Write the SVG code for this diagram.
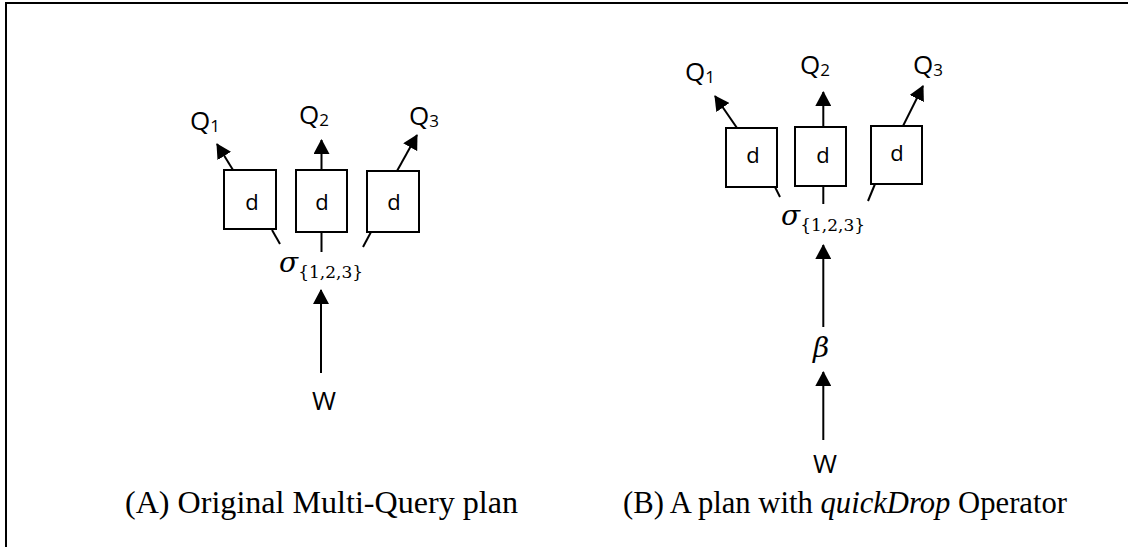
<svg xmlns="http://www.w3.org/2000/svg" width="1128" height="547" viewBox="0 0 1128 547">
  <style>
    .frame { fill: none; stroke: #000; stroke-width: 2; }
    .box { fill: #fff; stroke: #000; stroke-width: 2; }
    .edge { fill: none; stroke: #000; stroke-width: 2; }
    .arrow { fill: none; stroke: #000; stroke-width: 2; marker-end: url(#head); }
    .lbl { font-family: "Open Sans", Lato, "Liberation Sans", sans-serif; font-size: 26px; fill: #000; }
    .sub { font-size: 17px; }
    .d { font-family: "Open Sans", Lato, "Liberation Sans", sans-serif; font-size: 22px; fill: #000; text-anchor: middle; }
    .math { font-family: "DejaVu Serif", "Liberation Serif", serif; font-style: italic; font-size: 28px; fill: #000; }
    .msub { font-family: "DejaVu Serif", "Liberation Serif", serif; font-style: normal; font-size: 17px; }
    .cap { font-family: "Liberation Serif", "Times New Roman", serif; font-size: 31px; fill: #000; }
  </style>
  <defs>
    <marker id="head" markerUnits="userSpaceOnUse" markerWidth="16" markerHeight="16" refX="14" refY="8" orient="auto">
      <path d="M0,0 L15,8 L0,16 Z" fill="#000"/>
    </marker>
  </defs>

  <!-- outer frame: only top and left edges fall inside the canvas -->
  <rect class="frame" x="6" y="3" width="1140" height="560"/>

  <!-- (A) original multi-query plan -->
  <g id="a-connectors">
    <line class="arrow" x1="321" y1="373" x2="321" y2="290"/>
    <line class="arrow" x1="233" y1="170" x2="217" y2="144"/>
    <line class="arrow" x1="321.5" y1="170" x2="321.5" y2="140"/>
    <line class="arrow" x1="397" y1="171" x2="417" y2="135"/>
    <line class="edge" x1="272" y1="230" x2="280" y2="244"/>
    <line class="edge" x1="321.5" y1="232" x2="321.5" y2="252"/>
    <line class="edge" x1="371" y1="232" x2="363" y2="247"/>
  </g>
  <g id="a-d1"><rect class="box" x="224" y="170" width="52" height="59"/><text class="d" x="252" y="210">d</text></g>
  <g id="a-d2"><rect class="box" x="296" y="170" width="51" height="62"/><text class="d" x="322" y="210">d</text></g>
  <g id="a-d3"><rect class="box" x="367" y="171" width="52" height="61"/><text class="d" x="394" y="210">d</text></g>
  <g id="a-q1"><text class="lbl" x="190" y="130">Q<tspan class="sub" dy="2">1</tspan></text></g>
  <g id="a-q2"><text class="lbl" x="299" y="124">Q<tspan class="sub" dy="2">2</tspan></text></g>
  <g id="a-q3"><text class="lbl" x="409" y="125">Q<tspan class="sub" dy="2">3</tspan></text></g>
  <g id="a-sigma"><text class="math" x="279" y="272">σ<tspan class="msub" dy="6">{1,2,3}</tspan></text></g>
  <g id="a-w"><text class="lbl" x="312" y="410">W</text></g>

  <!-- (B) plan with quickDrop -->
  <g id="b-connectors">
    <line class="arrow" x1="823.3" y1="327" x2="823.3" y2="245"/>
    <line class="arrow" x1="823.3" y1="440" x2="823.3" y2="372"/>
    <line class="arrow" x1="737" y1="128" x2="715" y2="96"/>
    <line class="arrow" x1="823.3" y1="127" x2="823.3" y2="92"/>
    <line class="arrow" x1="903" y1="126" x2="923" y2="86"/>
    <line class="edge" x1="775" y1="187" x2="780" y2="197"/>
    <line class="edge" x1="823.3" y1="186" x2="823.3" y2="204"/>
    <line class="edge" x1="875" y1="184" x2="868" y2="201"/>
  </g>
  <g id="b-d1"><rect class="box" x="726" y="128" width="51" height="59"/><text class="d" x="753" y="163">d</text></g>
  <g id="b-d2"><rect class="box" x="795" y="127" width="51" height="59"/><text class="d" x="823" y="163">d</text></g>
  <g id="b-d3"><rect class="box" x="871" y="126" width="51" height="58"/><text class="d" x="897" y="161">d</text></g>
  <g id="b-q1"><text class="lbl" x="685" y="81">Q<tspan class="sub" dy="2">1</tspan></text></g>
  <g id="b-q2"><text class="lbl" x="800" y="74">Q<tspan class="sub" dy="2">2</tspan></text></g>
  <g id="b-q3"><text class="lbl" x="913" y="74">Q<tspan class="sub" dy="2">3</tspan></text></g>
  <g id="b-sigma"><text class="math" x="781" y="225">σ<tspan class="msub" dy="6">{1,2,3}</tspan></text></g>
  <g id="b-beta"><text class="math" x="813" y="357">β</text></g>
  <g id="b-w"><text class="lbl" x="813" y="473">W</text></g>

  <!-- captions -->
  <text class="cap" x="125" y="513" textLength="393" lengthAdjust="spacingAndGlyphs">(A)  Original Multi-Query plan</text>
  <text class="cap" x="623" y="513" textLength="444" lengthAdjust="spacingAndGlyphs">(B) A plan with <tspan font-style="italic">quickDrop</tspan> Operator</text>
</svg>
